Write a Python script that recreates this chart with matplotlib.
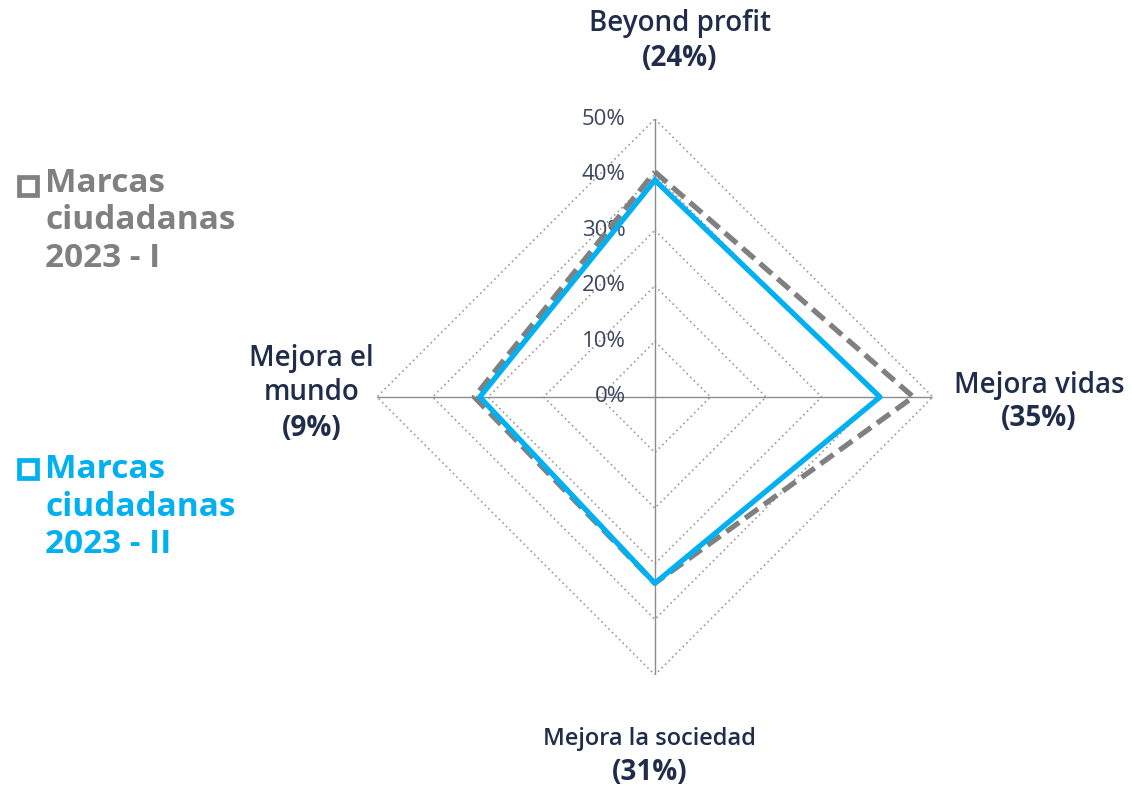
import numpy as np
import matplotlib

matplotlib.use("Agg")

import matplotlib.pyplot as plt
from matplotlib.lines import Line2D


categories = ["Beyond profit", "Mejora vidas", "Mejora la sociedad", "Mejora el mundo"]
shares = ["(24%)", "(35%)", "(31%)", "(9%)"]
series_names = ["Marcas\nciudadanas\n2023 - I", "Marcas\nciudadanas\n2023 - II"]
values_i = [40.5, 46.5, 33.5, 32.5]
values_ii = [39, 40.5, 33.5, 31.5]
rings = [10, 20, 30, 40, 50]

NAVY = "#1f2d4a"
GRAY = "#808080"
BLUE = "#00b0f0"

plt.rcParams["font.family"] = ["Open Sans", "DejaVu Sans"]


def closed(values):
    return list(values) + [values[0]]


def main() -> None:
    fig = plt.figure(figsize=(11.32, 7.89), dpi=100)
    fig.patch.set_facecolor("white")

    ax = fig.add_axes([0.333, 0.1445, 0.491, 0.7047], projection="polar")
    ax.set_theta_offset(np.pi / 2)
    ax.set_theta_direction(-1)
    ax.set_ylim(0, 50)
    ax.set_xticks([])
    ax.set_yticks([])
    ax.grid(False)
    ax.spines["polar"].set_visible(False)
    ax.patch.set_alpha(0)

    angles = np.linspace(0, 2 * np.pi, len(categories), endpoint=False)
    ring_angles = closed(angles)

    # diamond-shaped grid and spokes
    for r in rings:
        ax.plot(ring_angles, [r] * len(ring_angles), color="#9a9a9a",
                linewidth=1.2, linestyle=(0, (1, 2)), zorder=1)
    for t in angles:
        ax.plot([t, t], [0, rings[-1]], color="#8c8c8c", linewidth=1.0, zorder=1)

    # radial labels next to the top spoke
    for r in [0] + rings:
        ax.annotate(f"{r}%", xy=(0, r), xytext=(-29, 0), textcoords="offset pixels",
                    ha="right", va="center", fontsize=16, color="#3a4660", zorder=2)

    ax.plot(ring_angles, closed(values_i), color=GRAY, linewidth=3.8,
            dashes=(3, 1.4), zorder=3)
    ax.plot(ring_angles, closed(values_ii), color=BLUE, linewidth=3.8, zorder=4)

    # category labels: (x, name y, share y)
    label_pos = [(0.6007, 0.970, 0.926), (0.918, 0.512, 0.470),
                 (0.574, 0.063, 0.021), (0.275, 0.524, 0.4575)]
    sizes = [20, 20, 17, 20]
    for name, share, (x, y1, y2), size in zip(categories, shares, label_pos, sizes):
        if name == "Mejora el mundo":
            name = "Mejora el\nmundo"
        fig.text(x, y1, name, ha="center", va="center", fontsize=size,
                 fontweight="semibold", color=NAVY, linespacing=1.2)
        fig.text(x, y2, share, ha="center", va="center", fontsize=20,
                 fontweight="bold", color=NAVY)

    # legend drawn on the left side
    legend_rows = [(0.72, 1 - 186 / 789, GRAY), (0.357, 1 - 469 / 789, BLUE)]
    for label, (y_text, y_mark, color) in zip(series_names, legend_rows):
        fig.add_artist(Line2D([28 / 1132], [y_mark], transform=fig.transFigure,
                              marker="s", markersize=13, markerfacecolor="white",
                              markeredgecolor=color, markeredgewidth=3.4, linestyle="none"))
        fig.text(0.0398, y_text, label, ha="left", va="center", fontsize=24,
                 fontweight="bold", color=color, linespacing=1.18)

    fig.savefig("out.png", dpi=100)
    plt.close(fig)


if __name__ == "__main__":
    main()
